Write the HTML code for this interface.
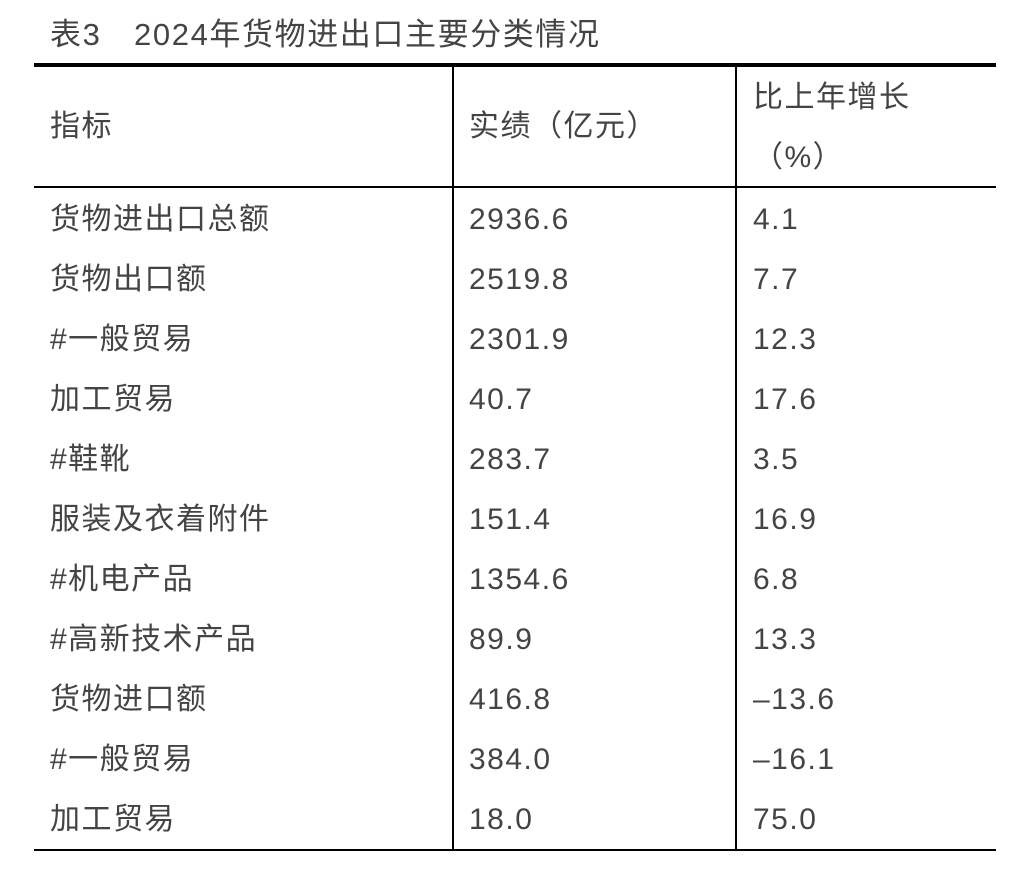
<!DOCTYPE html>
<html><head><meta charset="utf-8"><style>
body{margin:0;width:1034px;height:874px;background:#fff;position:relative;overflow:hidden;font-family:"Liberation Sans","Noto Sans CJK SC",sans-serif;color:#444;}
.t{position:absolute;font-size:30px;line-height:1;white-space:nowrap;letter-spacing:1.5px}
.l{position:absolute;background:#000}
</style></head><body>
<div class="t" style="left:50px;top:19px;font-size:31px;letter-spacing:1.6px">表3　2024年货物进出口主要分类情况</div>
<div class="l" style="left:34px;top:63px;width:962px;height:4px"></div>
<div class="l" style="left:34px;top:186px;width:962px;height:2px"></div>
<div class="l" style="left:34px;top:849px;width:962px;height:2px"></div>
<div class="l" style="left:452px;top:65px;width:2px;height:785px"></div>
<div class="l" style="left:735px;top:65px;width:2px;height:785px"></div>
<div class="t" style="left:50px;top:112px">指标</div>
<div class="t" style="left:469px;top:112px">实绩（亿元）</div>
<div class="t" style="left:753px;top:83px">比上年增长</div>
<div class="t" style="left:753px;top:143px">（%）</div>
<div id="rows"></div>
<script>
var d=[["货物进出口总额","2936.6","4.1"],["货物出口额","2519.8","7.7"],["#一般贸易","2301.9","12.3"],["加工贸易","40.7","17.6"],["#鞋靴","283.7","3.5"],["服装及衣着附件","151.4","16.9"],["#机电产品","1354.6","6.8"],["#高新技术产品","89.9","13.3"],["货物进口额","416.8","–13.6"],["#一般贸易","384.0","–16.1"],["加工贸易","18.0","75.0"]];
var h="";d.forEach(function(r,i){var y=205+60*i;h+='<div class="t" style="left:50px;top:'+y+'px">'+r[0]+'</div><div class="t" style="left:469px;top:'+y+'px">'+r[1]+'</div><div class="t" style="left:753px;top:'+y+'px">'+r[2]+'</div>';});
document.getElementById("rows").innerHTML=h;
</script>
</body></html>
